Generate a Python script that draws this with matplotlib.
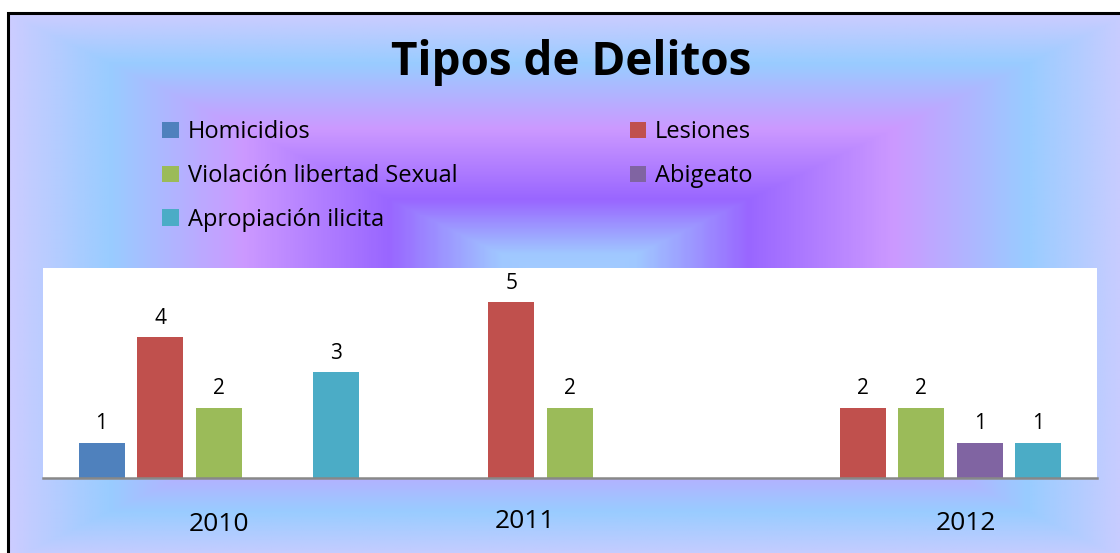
import numpy as np
import matplotlib.pyplot as plt
from matplotlib.patches import Patch, Rectangle
from matplotlib.colors import LinearSegmentedColormap
import matplotlib.transforms as mtransforms

plt.rcParams['font.family'] = ['Open Sans', 'DejaVu Sans']

# -------------------------------
# DATA
# -------------------------------
years = ["2010", "2011", "2012"]
crimes = ["Homicidios", "Lesiones", "Violación libertad Sexual",
          "Abigeato", "Apropiación ilicita"]
homicidios = [1, 0, 0]
lesiones = [4, 5, 2]
violacion = [2, 2, 2]
abigeato = [0, 0, 1]
apropiacion = [3, 0, 1]
colors = ["#4f81bd", "#c0504d", "#9bbb59", "#8064a2", "#4bacc6"]

series = [homicidios, lesiones, violacion, abigeato, apropiacion]

W, H = 1120, 553
fig = plt.figure(figsize=(W / 100, H / 100), dpi=100)
fig.patch.set_facecolor("white")

# -------------------------------
# BACKGROUND (rectangular gradient)
# -------------------------------
bg = fig.add_axes([8 / W, 0, 1 - 8 / W, 1 - 13 / H], zorder=-10)
bx0, bx1, by0, by1 = 8, 1130, 13, 562
xs = np.linspace(8, W, 600)
ys = np.linspace(13, H, 300)
X, Y = np.meshgrid(xs, ys)
cx, cy = (bx0 + bx1) / 2, (by0 + by1) / 2
t = np.maximum(np.abs(X - cx) / ((bx1 - bx0) / 2), np.abs(Y - cy) / ((by1 - by0) / 2))
cmap = LinearSegmentedColormap.from_list("bg", [
    (0.0, "#a6d0ff"), (0.12, "#a0c8ff"), (0.32, "#9966ff"),
    (0.58, "#cc99ff"), (0.82, "#99ccff"), (1.0, "#ccccff")])
bg.imshow(t, cmap=cmap, vmin=0, vmax=1, aspect="auto",
          extent=[8, W, H, 13], interpolation="bilinear")
bg.set_xlim(8, W)
bg.set_ylim(H, 13)
bg.axis("off")
fig.add_artist(Rectangle((8 / W, -0.01), 1.01, 1 - 13 / H + 0.01,
                         transform=fig.transFigure, fill=False,
                         edgecolor="black", linewidth=2.2, zorder=5))

# -------------------------------
# BARS
# -------------------------------
ax = fig.add_axes([43 / W, 1 - 478 / H, (1097 - 43) / W, (478 - 268) / H])
ax.set_facecolor("white")
x = np.arange(len(years))
step = 0.1667
bw = 0.131
for i, (vals, c) in enumerate(zip(series, colors)):
    vals = np.array(vals)
    pos = x + (i - 2) * step
    m = vals > 0
    bars = ax.bar(pos[m], vals[m], width=bw, color=c, zorder=2)
    ax.bar_label(bars, labels=[str(v) for v in vals[m]], padding=6,
                 fontsize=15, color="black")

ax.set_xlim(-0.5, 2.5)
ax.set_ylim(0, 5.97)
ax.set_yticks([])
for s in ["top", "right", "left"]:
    ax.spines[s].set_visible(False)
ax.spines["bottom"].set_color("#888888")
ax.spines["bottom"].set_linewidth(1.8)
ax.set_xticks(x)
ax.set_xticklabels(years, fontsize=19)
ax.tick_params(axis="x", length=0, pad=22)
shifts = [(0, -3), (-45, 0), (45, -2)]
for lab, (dx, dy) in zip(ax.get_xticklabels(), shifts):
    lab.set_transform(lab.get_transform() +
                      mtransforms.ScaledTranslation(dx / 100, dy / 100, fig.dpi_scale_trans))

# -------------------------------
# TITLE + LEGEND
# -------------------------------
fig.text(571 / W, 1 - 62 / H, "Tipos de Delitos", fontsize=33,
         fontweight="bold", ha="center", va="center")

order = [0, 2, 4, 1, 3]
handles = [Patch(facecolor=colors[k], label=crimes[k]) for k in order]
leg = fig.legend(handles=handles, ncol=2, loc="upper left",
                 bbox_to_anchor=(141 / W, 1 - 99 / H), frameon=False,
                 fontsize=17, handlelength=0.7, handleheight=0.7,
                 handletextpad=0.38, labelspacing=0.84, columnspacing=7.3)

fig.savefig("out.png", dpi=100)
